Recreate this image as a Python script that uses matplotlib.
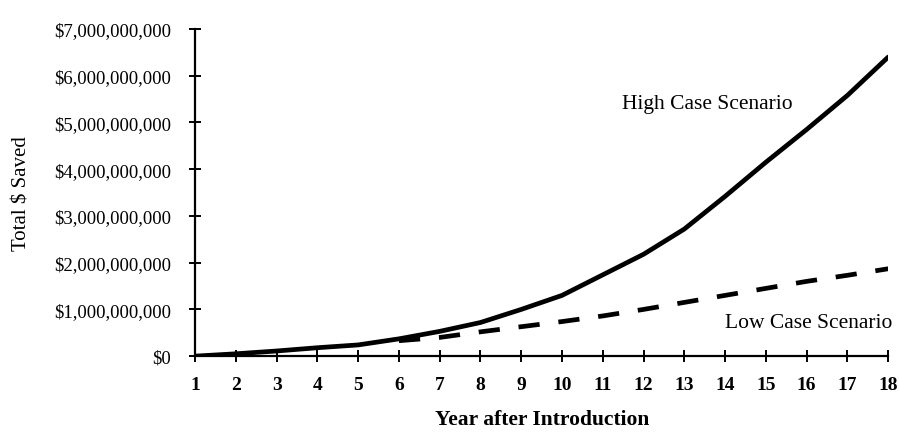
import matplotlib
matplotlib.use("Agg")
import matplotlib.pyplot as plt
from matplotlib.ticker import FuncFormatter

# values (dollars saved)
years = list(range(1, 19))
high_case = [0.0, 0.05e9, 0.11e9, 0.18e9, 0.24e9, 0.37e9, 0.53e9, 0.72e9, 1.0e9,
             1.3e9, 1.74e9, 2.18e9, 2.72e9, 3.42e9, 4.15e9, 4.85e9, 5.58e9, 6.4e9]
low_years = list(range(6, 19))
low_case = [0.33e9, 0.4e9, 0.52e9, 0.63e9, 0.74e9, 0.86e9, 1.0e9,
            1.15e9, 1.3e9, 1.45e9, 1.6e9, 1.73e9, 1.87e9]
y_ticks = [0, 1e9, 2e9, 3e9, 4e9, 5e9, 6e9, 7e9]

serif = "Liberation Serif"

fig = plt.figure(figsize=(8.99, 4.35), dpi=100)
ax = fig.add_axes([0.217, 0.179, 0.771, 0.752])

ax.plot(years, high_case, color="black", lw=3.4, solid_capstyle="round",
        solid_joinstyle="round")
ax.plot(low_years, low_case, color="black", lw=3.4, dashes=(4.5, 4))

ax.set_xlim(1, 18)
ax.set_ylim(0, 7e9)
ax.set_xticks(years)
ax.set_yticks(y_ticks)
ax.yaxis.set_major_formatter(FuncFormatter(lambda v, p: "${:,.0f}".format(v)))

for s in ["top", "right"]:
    ax.spines[s].set_visible(False)
for s in ["left", "bottom"]:
    ax.spines[s].set_linewidth(1.6)

ax.tick_params(axis="both", direction="inout", length=9, width=1.4)
ax.tick_params(axis="x", pad=10)
ax.tick_params(axis="y", pad=13)
for lab in ax.get_xticklabels():
    lab.set_fontfamily(serif)
    lab.set_fontweight("bold")
    lab.set_fontsize(14)
for lab in ax.get_yticklabels():
    lab.set_fontfamily(serif)
    lab.set_fontsize(13.5)

ax.text(11.47, 5.4e9, "High Case Scenario", fontsize=15.5, family=serif, va="center")
ax.text(14.0, 0.72e9, "Low Case Scenario", fontsize=15.5, family=serif, va="center")

fig.text(0.025, 0.555, "Total $ Saved", rotation=90, fontsize=15, family=serif,
         ha="center", va="center")
fig.text(0.603, 0.012, "Year after Introduction", fontsize=15.5, family=serif,
         fontweight="bold", ha="center", va="bottom")

fig.savefig("out.png", dpi=100)
